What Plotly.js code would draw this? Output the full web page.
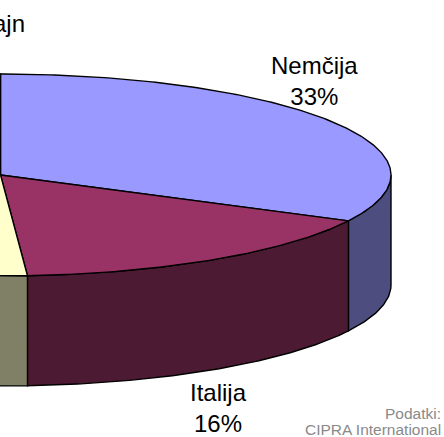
<!DOCTYPE html>
<html>
<head>
<meta charset="utf-8">
<script src="https://cdn.plot.ly/plotly-3.0.1.min.js"></script>
<style>html,body{margin:0;padding:0;background:#fff;overflow:hidden}</style>
</head>
<body>
<div id="chart" style="width:444px;height:437px"></div>
<script>
// Data (shares in %, clockwise from 12 o'clock)
const categories = ["Nemčija", "Italija", "ajn"];
const shares = [32.5, 16.4, 51.1];
const topColors = ["#9999ff", "#993366", "#ffffcc"];
const sideColors = ["#4d4d80", "#4d1a33", "#808066"];
const showLabel = [true, true, false];
const labelX = [314, 218];
const labelY = [81, 408];
const source = ["Podatki:", "CIPRA International"];

// Pie projection
const cx = 0.5, cy = 175, rx = 390.5, ry = 101, depth = 110;
const px = a => cx + rx * Math.sin(a);
const py = a => cy - ry * Math.cos(a);
const rad = p => p / 100 * 2 * Math.PI;

function arc(a0, a1) {
  const n = Math.max(2, Math.ceil(Math.abs(a1 - a0) / 0.01));
  const out = [];
  for (let i = 0; i <= n; i++) out.push(a0 + (a1 - a0) * i / n);
  return out;
}

const traces = [];
const line = {color: "#000", width: 1.4};
let start = 0;
const tops = [];
shares.forEach((s, i) => {
  const a0 = rad(start), a1 = rad(start + s);
  start += s;
  // side wall: only the front half of the rim (pi/2 .. 3pi/2) is visible
  const lo = Math.max(a0, Math.PI / 2), hi = Math.min(a1, 1.5 * Math.PI);
  if (hi > lo) {
    const t = arc(lo, hi), b = t.slice().reverse();
    traces.push({
      type: "scatter", mode: "lines", fill: "toself", fillcolor: sideColors[i],
      line, hoverinfo: "skip", showlegend: false,
      x: t.map(px).concat(b.map(px), [px(lo)]),
      y: t.map(py).concat(b.map(a => py(a) + depth), [py(lo)])
    });
  }
  const t = arc(a0, a1);
  tops.push({
    type: "scatter", mode: "lines", fill: "toself", fillcolor: topColors[i],
    line, name: categories[i], hoverinfo: "name", showlegend: false,
    x: [cx].concat(t.map(px), [cx]),
    y: [cy].concat(t.map(py), [cy])
  });
});
traces.push(...tops);

const labelFont = {family: "Liberation Sans, Arial, sans-serif", size: 24, color: "#000"};
const annotations = [];
shares.forEach((s, i) => {
  if (!showLabel[i]) return;
  annotations.push({
    xref: "x", yref: "y", x: labelX[i], y: labelY[i], showarrow: false,
    xanchor: "center", yanchor: "middle", align: "center",
    text: categories[i] + "<br>" + Math.round(s) + "%", font: labelFont
  });
});
annotations.push({
  xref: "x", yref: "y", x: 0, y: 23, xshift: -9, showarrow: false,
  xanchor: "left", yanchor: "middle", text: categories[2], font: labelFont
});
source.forEach((t, i) => annotations.push({
  xref: "x", yref: "y", x: 442, y: 413 + 16 * i, showarrow: false,
  xanchor: "right", yanchor: "middle", text: t, borderpad: 0,
  font: {family: "Liberation Sans, Arial, sans-serif", size: 15.5, color: "#8a8a8a"}
}));

const hidden = {visible: false, fixedrange: true};
Plotly.newPlot("chart", traces, {
  width: 444, height: 437,
  margin: {l: 0, r: 0, t: 0, b: 0},
  paper_bgcolor: "#fff", plot_bgcolor: "#fff",
  showlegend: false,
  xaxis: Object.assign({range: [0, 444]}, hidden),
  yaxis: Object.assign({range: [437, 0]}, hidden),
  annotations
}, {displayModeBar: false, staticPlot: true});
</script>
</body>
</html>
